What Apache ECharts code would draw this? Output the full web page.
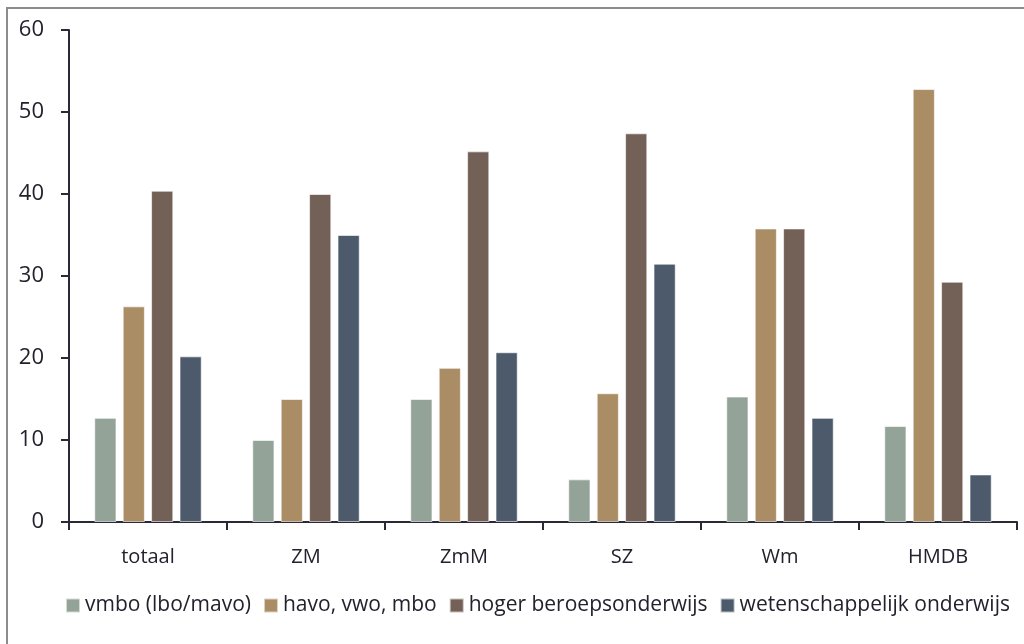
<!DOCTYPE html>
<html>
<head>
<meta charset="utf-8">
<script src="https://cdn.jsdelivr.net/npm/echarts@6/dist/echarts.min.js"></script>
<style>
html,body{margin:0;padding:0;background:#fff;}
#chart{width:1024px;height:644px;}
</style>
</head>
<body>
<div id="chart"></div>
<script>
var categories = ['totaal', 'ZM', 'ZmM', 'SZ', 'Wm', 'HMDB'];
var seriesNames = ['vmbo (lbo/mavo)', 'havo, vwo, mbo', 'hoger beroepsonderwijs', 'wetenschappelijk onderwijs'];
var vmbo = [12.7, 10.0, 15.0, 5.2, 15.3, 11.7];
var havo = [26.3, 15.0, 18.8, 15.7, 35.8, 52.8];
var hbo = [40.4, 40.0, 45.2, 47.4, 35.8, 29.3];
var wo = [20.2, 35.0, 20.7, 31.5, 12.7, 5.8];
var yTicks = [0, 10, 20, 30, 40, 50, 60];
var colors = ['#94a398', '#ab8d65', '#736056', '#4c5a6b'];

var values = [vmbo, havo, hbo, wo];
var textColor = '#22222e';
var font = 'Open Sans';

var chart = echarts.init(document.getElementById('chart'));
chart.setOption({
  animation: false,
  backgroundColor: '#fff',
  color: colors,
  graphic: [{
    type: 'rect',
    shape: {x: 7, y: 8, width: 1040, height: 660},
    style: {fill: 'none', stroke: '#8c8c8c', lineWidth: 2},
    silent: true
  }],
  grid: {left: 69, right: 7, top: 30, bottom: 122, containLabel: false},
  legend: {
    bottom: 23,
    left: 60,
    itemWidth: 14,
    itemHeight: 14,
    itemGap: 12,
    icon: 'rect',
    textStyle: {fontFamily: font, fontSize: 21, color: textColor},
    data: seriesNames
  },
  xAxis: {
    type: 'category',
    data: categories,
    axisLine: {lineStyle: {color: '#2a2a36', width: 2}},
    axisTick: {show: true, length: 8, lineStyle: {color: '#2a2a36', width: 2}},
    axisLabel: {fontFamily: font, fontSize: 20, color: textColor, margin: 25}
  },
  yAxis: {
    type: 'value',
    min: yTicks[0],
    max: yTicks[yTicks.length - 1],
    interval: 10,
    splitLine: {show: false},
    axisLine: {show: true, lineStyle: {color: '#2a2a36', width: 2}},
    axisTick: {show: true, length: 8, lineStyle: {color: '#2a2a36', width: 2}},
    axisLabel: {fontFamily: font, fontSize: 22, color: textColor, margin: 25}
  },
  series: seriesNames.map(function (name, i) {
    return {
      name: name,
      type: 'bar',
      data: values[i],
      barGap: '28%',
      barCategoryGap: '32%',
      itemStyle: {color: colors[i], borderColor: 'rgba(255,255,255,0.6)', borderWidth: 1}
    };
  })
});
</script>
</body>
</html>
